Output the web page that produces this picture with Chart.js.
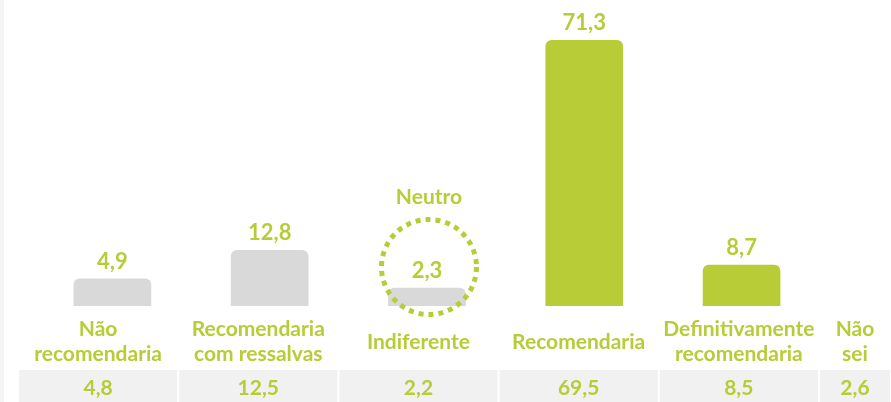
<!DOCTYPE html>
<html>
<head>
<meta charset="utf-8">
<script src="https://cdn.jsdelivr.net/npm/chart.js@4/dist/chart.umd.min.js"></script>
<style>
  html,body{margin:0;padding:0;background:#fff;overflow:hidden}
  #wrap{position:relative;width:891px;height:402px}
</style>
</head>
<body>
<div id="wrap"><canvas id="chart"></canvas></div>
<script>
const CATEGORIES = [
  ['Não','recomendaria'],
  ['Recomendaria','com ressalvas'],
  ['Indiferente'],
  ['Recomendaria'],
  ['Definitivamente','recomendaria'],
  ['Não','sei']
];
const BAR_VALUES = [4.9, 12.8, 2.3, 71.3, 8.7];
const TABLE_VALUES = [4.8, 12.5, 2.2, 69.5, 8.5, 2.6];
const NEUTRAL_INDEX = 2;
const NEUTRAL_LABEL = 'Neutro';

const C = {
  green:'#b8cc37', gray:'#d9d9d9', cell:'#f1f1f1', strip:'#f5f5f5'
};
const FONT = 'bold 21px Lato, "Open Sans", sans-serif';
const VFONT = 'bold 22px Lato, "Open Sans", sans-serif';
const fmt = v => v.toFixed(1).replace('.', ',');

const decor = {
  id:'decor',
  beforeDraw(chart){
    const {ctx,chartArea,height} = chart;
    ctx.save();
    ctx.fillStyle = C.strip;
    ctx.fillRect(0,0,4,height);
    // table row
    const xs = chart.scales.x, top = chartArea.bottom + 64;
    TABLE_VALUES.forEach((v,i)=>{
      const l = xs.getPixelForValue(i-0.5), r = Math.min(xs.getPixelForValue(i+0.5), chartArea.right);
      ctx.fillStyle = C.cell;
      ctx.fillRect(l+1, top, r-l-2, height-top);
    });
    ctx.restore();
  },
  afterDatasetsDraw(chart){
    const {ctx,chartArea,height} = chart;
    const xs = chart.scales.x, meta = chart.getDatasetMeta(0);
    ctx.save();
    ctx.fillStyle = C.green;
    ctx.textAlign = 'center';
    ctx.textBaseline = 'middle';
    // values above bars
    ctx.font = VFONT;
    meta.data.forEach((bar,i)=>{
      ctx.fillText(fmt(BAR_VALUES[i]), bar.x, bar.y - 17);
    });
    // category labels and table values
    ctx.font = FONT;
    const top = chartArea.bottom + 64;
    CATEGORIES.forEach((lines,i)=>{
      const l = xs.getPixelForValue(i-0.5), r = Math.min(xs.getPixelForValue(i+0.5), chartArea.right);
      const cx = (l+r)/2;
      const mid = chartArea.bottom + 36;
      lines.forEach((t,k)=>{
        ctx.fillText(t, cx, mid + (k-(lines.length-1)/2)*25);
      });
      ctx.fillText(fmt(TABLE_VALUES[i]), cx, (top+height)/2 + 2);
    });
    // neutral ring
    const nb = meta.data[NEUTRAL_INDEX];
    const cy = chartArea.bottom - 39, rad = 47.5;
    ctx.strokeStyle = C.green;
    ctx.lineWidth = 5;
    ctx.setLineDash([5,5]);
    ctx.beginPath();
    ctx.arc(nb.x+2, cy, rad, 0, Math.PI*2);
    ctx.stroke();
    ctx.fillText(NEUTRAL_LABEL, nb.x+2, cy - rad - 22);
    ctx.restore();
  }
};

new Chart(document.getElementById('chart'),{
  type:'bar',
  data:{datasets:[{
    data:BAR_VALUES.map((v,i)=>({x:i,y:v})),
    xAxisID:'xb',
    base:-2.7,
    backgroundColor:ctx=>ctx.dataIndex<=NEUTRAL_INDEX?C.gray:C.green,
    borderRadius:{topLeft:6,topRight:6,bottomLeft:0,bottomRight:0},
    borderSkipped:false,
    barThickness:77
  }]},
  options:{
    responsive:true,maintainAspectRatio:false,animation:false,
    layout:{padding:{left:18,right:0,top:9,bottom:96}},
    plugins:{legend:{display:false},tooltip:{enabled:false}},
    scales:{
      x:{type:'linear',display:false,offset:false,min:-0.5,max:4.95},
      xb:{type:'linear',display:false,offset:false,min:-0.6,max:4.95},
      y:{display:false,min:-2.7,max:80}
    }
  },
  plugins:[decor]
});
</script>
</body>
</html>
